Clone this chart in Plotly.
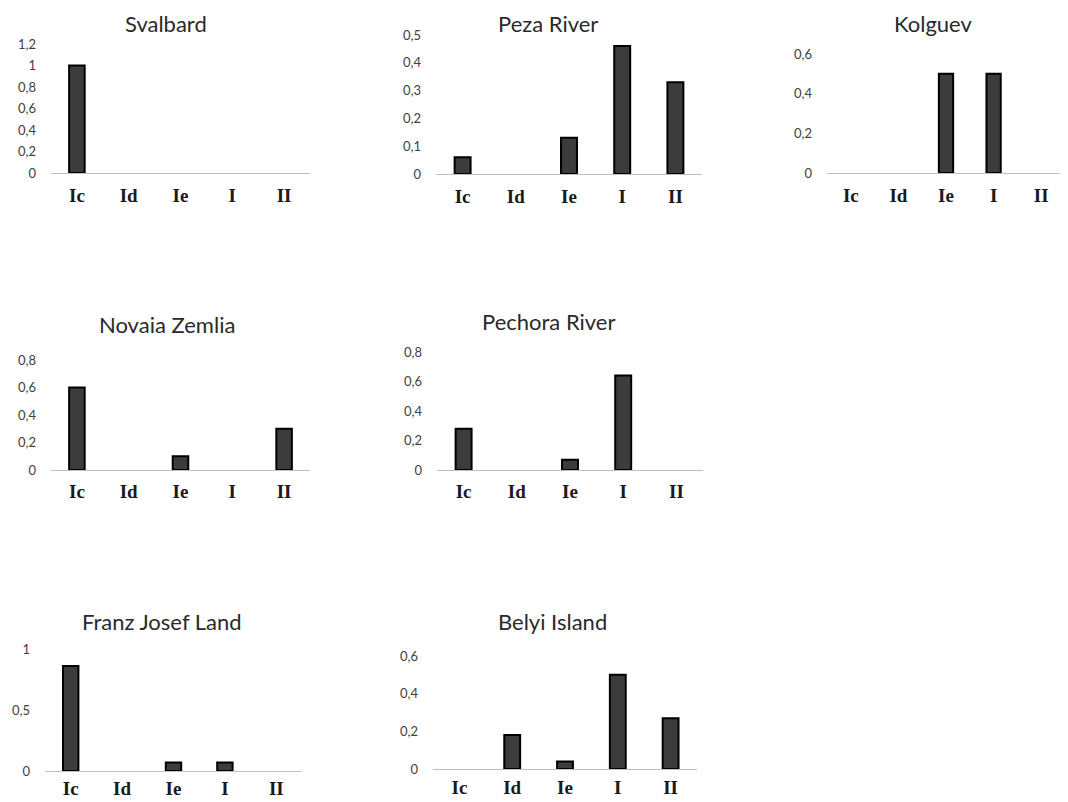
import plotly.graph_objects as go
from plotly.subplots import make_subplots

categories = ["Ic", "Id", "Ie", "I", "II"]

titles = ["Svalbard", "Peza River", "Kolguev", "Novaia Zemlia",
          "Pechora River", "Franz Josef Land", "Belyi Island"]

svalbard = [1.0, 0, 0, 0, 0]
peza = [0.06, 0, 0.13, 0.46, 0.33]
kolguev = [0, 0, 0.5, 0.5, 0]
novaia = [0.6, 0, 0.1, 0, 0.3]
pechora = [0.28, 0, 0.07, 0.64, 0]
franz = [0.86, 0, 0.07, 0.07, 0]
belyi = [0, 0.18, 0.04, 0.5, 0.27]

series = [svalbard, peza, kolguev, novaia, pechora, franz, belyi]

y_max = [1.2, 0.5, 0.6, 0.8, 0.8, 1.0, 0.6]
y_step = [0.2, 0.1, 0.2, 0.2, 0.2, 0.5, 0.2]

# page body has an 8px margin: figure is drawn 8px in from the top-left
OFF = 8
W, H = 1068 - OFF, 802 - OFF
# panel boxes in window pixels: x0, x1, y_bottom(0), y_top(max)
boxes = [
    (51, 310, 173, 44),
    (436, 702, 174, 35),
    (827, 1065, 173, 54),
    (51, 310, 470, 360),
    (437, 703, 470, 352),
    (45, 302, 771, 649),
    (433, 697, 769, 656),
]
label_standoff = [5, 5, 5, 4, 4, 0, 1]
title_pos = [(166, 24), (548, 23), (933, 24), (167, 325), (548, 321),
             (162, 621), (552, 621)]

fig = make_subplots(rows=3, cols=3)
cells = [(1, 1), (1, 2), (1, 3), (2, 1), (2, 2), (3, 1), (3, 2)]

for i, (vals, (r, c)) in enumerate(zip(series, cells)):
    shown = [v if v else None for v in vals]
    fig.add_trace(go.Bar(
        x=categories, y=shown, width=0.3,
        marker=dict(color="#3c3c3c", line=dict(color="#000000", width=2)),
        showlegend=False, hoverinfo="x+y"), row=r, col=c)

def px_x(x):
    return (x - OFF) / W

def px_y(y):
    return 1 - (y - OFF) / H

annotations = []
for i, (r, c) in enumerate(cells):
    x0, x1, yb, yt = boxes[i]
    idx = (r - 1) * 3 + c
    xa = "xaxis" if idx == 1 else f"xaxis{idx}"
    ya = "yaxis" if idx == 1 else f"yaxis{idx}"
    fig.layout[xa].update(
        domain=[px_x(x0), px_x(x1)], showgrid=False, zeroline=False,
        showline=True, linecolor="#c0c0c0", linewidth=1, ticks="",
        tickfont=dict(family="Liberation Serif", size=19, color="#1a1a1a",
                      weight="bold"),
        ticklabelstandoff=label_standoff[i], fixedrange=True,
        automargin=False,
        categoryorder="array", categoryarray=categories)
    fig.layout[ya].update(
        domain=[px_y(yb), px_y(yt)], range=[0, y_max[i]],
        tick0=0, dtick=y_step[i], showgrid=False, zeroline=False,
        showline=False, ticks="", automargin=False,
        tickfont=dict(family="Lato", size=13, color="#404040"),
        ticklabelstandoff=14, fixedrange=True)
    tx, ty = title_pos[i]
    annotations.append(dict(
        text=titles[i], x=px_x(tx), y=px_y(ty), xref="paper", yref="paper",
        xanchor="center", yanchor="middle", showarrow=False,
        font=dict(family="Lato", size=22, color="#2a2a2a")))

fig.update_layout(
    width=W, height=H, margin=dict(l=0, r=0, t=0, b=0),
    paper_bgcolor="white", plot_bgcolor="white",
    separators=", ", annotations=annotations)

fig.write_html("out.html")
